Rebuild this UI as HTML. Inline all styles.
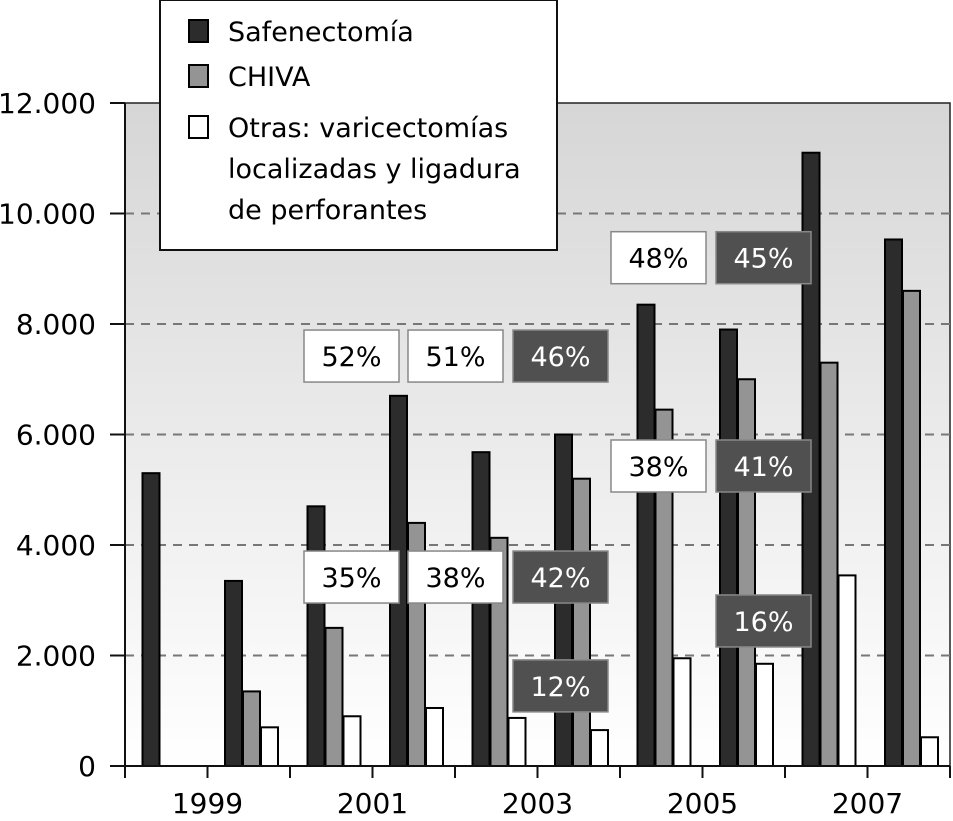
<!DOCTYPE html>
<html><head><meta charset="utf-8"><style>
body{margin:0;background:#fff;}
svg text{font-family:"DejaVu Sans","Liberation Sans",sans-serif;}
</style></head><body>
<svg id="c" width="953" height="816" viewBox="0 0 953 816" xmlns="http://www.w3.org/2000/svg">
<defs><linearGradient id="bg" x1="0" y1="0" x2="0" y2="1"><stop offset="0" stop-color="#d6d6d6"/><stop offset="1" stop-color="#ffffff"/></linearGradient></defs>
<rect x="125" y="103" width="825" height="663" fill="url(#bg)" stroke="#222" stroke-width="1.5"/>
<g id="grid"></g><g id="bars"></g><g id="axes"></g><g id="ann"></g>
<g>
<rect x="160" y="0" width="397" height="250" fill="#fff" stroke="#111" stroke-width="2"/>
<g><rect x="189" y="20" width="19" height="22" fill="#2c2c2c" stroke="#000" stroke-width="2"/><text x="228" y="41" font-size="27">Safenectomía</text></g>
<g><rect x="189" y="65" width="19" height="22" fill="#949494" stroke="#000" stroke-width="2"/><text x="228" y="86" font-size="27">CHIVA</text></g>
<g><rect x="189" y="116" width="19" height="22" fill="#fff" stroke="#000" stroke-width="2"/><text x="228" y="137" font-size="27">Otras: varicectomías</text><text x="228" y="178" font-size="27">localizadas y ligadura</text><text x="228" y="219" font-size="27">de perforantes</text></g>
</g>
</svg>
<script>
const groups=[1998,1999,2000,2001,2002,2003,2004,2005,2006,2007];
const safenectomia=[5300,3350,4700,6700,5680,6000,8350,7900,11100,9530];
const chiva=[0,1350,2500,4400,4130,5200,6450,7000,7300,8600];
const otras=[0,700,900,1050,870,650,1950,1850,3450,520];
const yTicks=[0,2000,4000,6000,8000,10000,12000];
const yTickLabels=["0","2.000","4.000","6.000","8.000","10.000","12.000"];
const xLabels=["1999","2001","2003","2005","2007"];
const annText=["52%","51%","46%","35%","38%","42%","12%","48%","45%","38%","41%","16%"];
const annValue=[7420,7420,7420,3420,3420,3420,1450,9200,9200,5430,5430,2625];
const annSlot=[2,3,4,2,3,4,4,6,7,6,7,7];
const annDark=[0,0,1,0,0,1,1,0,1,0,1,1];
const NS="http://www.w3.org/2000/svg";
const X0=125,GW=82.5,Y0=766,YT=103,YMAX=12000;
const y=v=>Y0-(v/YMAX)*(Y0-YT);
const gx=i=>X0+GW*i;
function mk(t,a,p){const e=document.createElementNS(NS,t);for(const k in a)e.setAttribute(k,a[k]);p.appendChild(e);return e;}
const grid=document.getElementById('grid'),bars=document.getElementById('bars'),axes=document.getElementById('axes'),ann=document.getElementById('ann');
yTicks.forEach((v,i)=>{
 if(v>0&&v<YMAX){const l=mk('line',{x1:X0,x2:950,y1:y(v),y2:y(v),stroke:'#777','stroke-width':2,'stroke-dasharray':'9,7'},grid);
 
 }
 const tk=mk('line',{x1:110,x2:X0,y1:y(v),y2:y(v),stroke:'#111','stroke-width':2},axes);
 
 
 const t=mk('text',{x:96,y:y(v)+10,'text-anchor':'end','font-size':28},axes);t.textContent=yTickLabels[i];
 
 
});
const series=[[safenectomia,'#2c2c2c','safenectomia'],[chiva,'#949494','chiva'],[otras,'#ffffff','otras']];
groups.forEach((g,i)=>{
 series.forEach((s,j)=>{const v=s[0][i];if(v<=0)return;
  const r=mk('rect',{x:gx(i)+17.5+18*j,y:y(v),width:17,height:Y0-y(v),fill:s[1],stroke:'#000','stroke-width':2},bars);
  
  
 });
});
const ax=mk('line',{x1:110,x2:950,y1:Y0,y2:Y0,stroke:'#111','stroke-width':2},axes);


const ay=mk('line',{x1:X0,x2:X0,y1:YT,y2:Y0,stroke:'#111','stroke-width':2},axes);


for(let i=0;i<=groups.length;i++){
 const tk=mk('line',{x1:gx(i),x2:gx(i),y1:Y0,y2:Y0+12,stroke:'#111','stroke-width':2},axes);
 
 
}
xLabels.forEach((l,k)=>{const t=mk('text',{x:gx(2*k+1),y:813,'text-anchor':'middle','font-size':28},axes);t.textContent=l;
 
 });
annText.forEach((s,i)=>{
 const bx=[0,0,304,408,513,0,611,716][annSlot[i]];
 const cy=y(annValue[i]);
 const g=mk('g',{},ann);
 
 
 mk('rect',{x:bx,y:cy-26,width:95,height:52,fill:annDark[i]?'#505050':'#fff',stroke:'#888','stroke-width':1.5},g);
 const t=mk('text',{x:bx+47.5,y:cy+10,'text-anchor':'middle','font-size':27,fill:annDark[i]?'#fff':'#000'},g);t.textContent=s;
});
</script>
</body></html>
